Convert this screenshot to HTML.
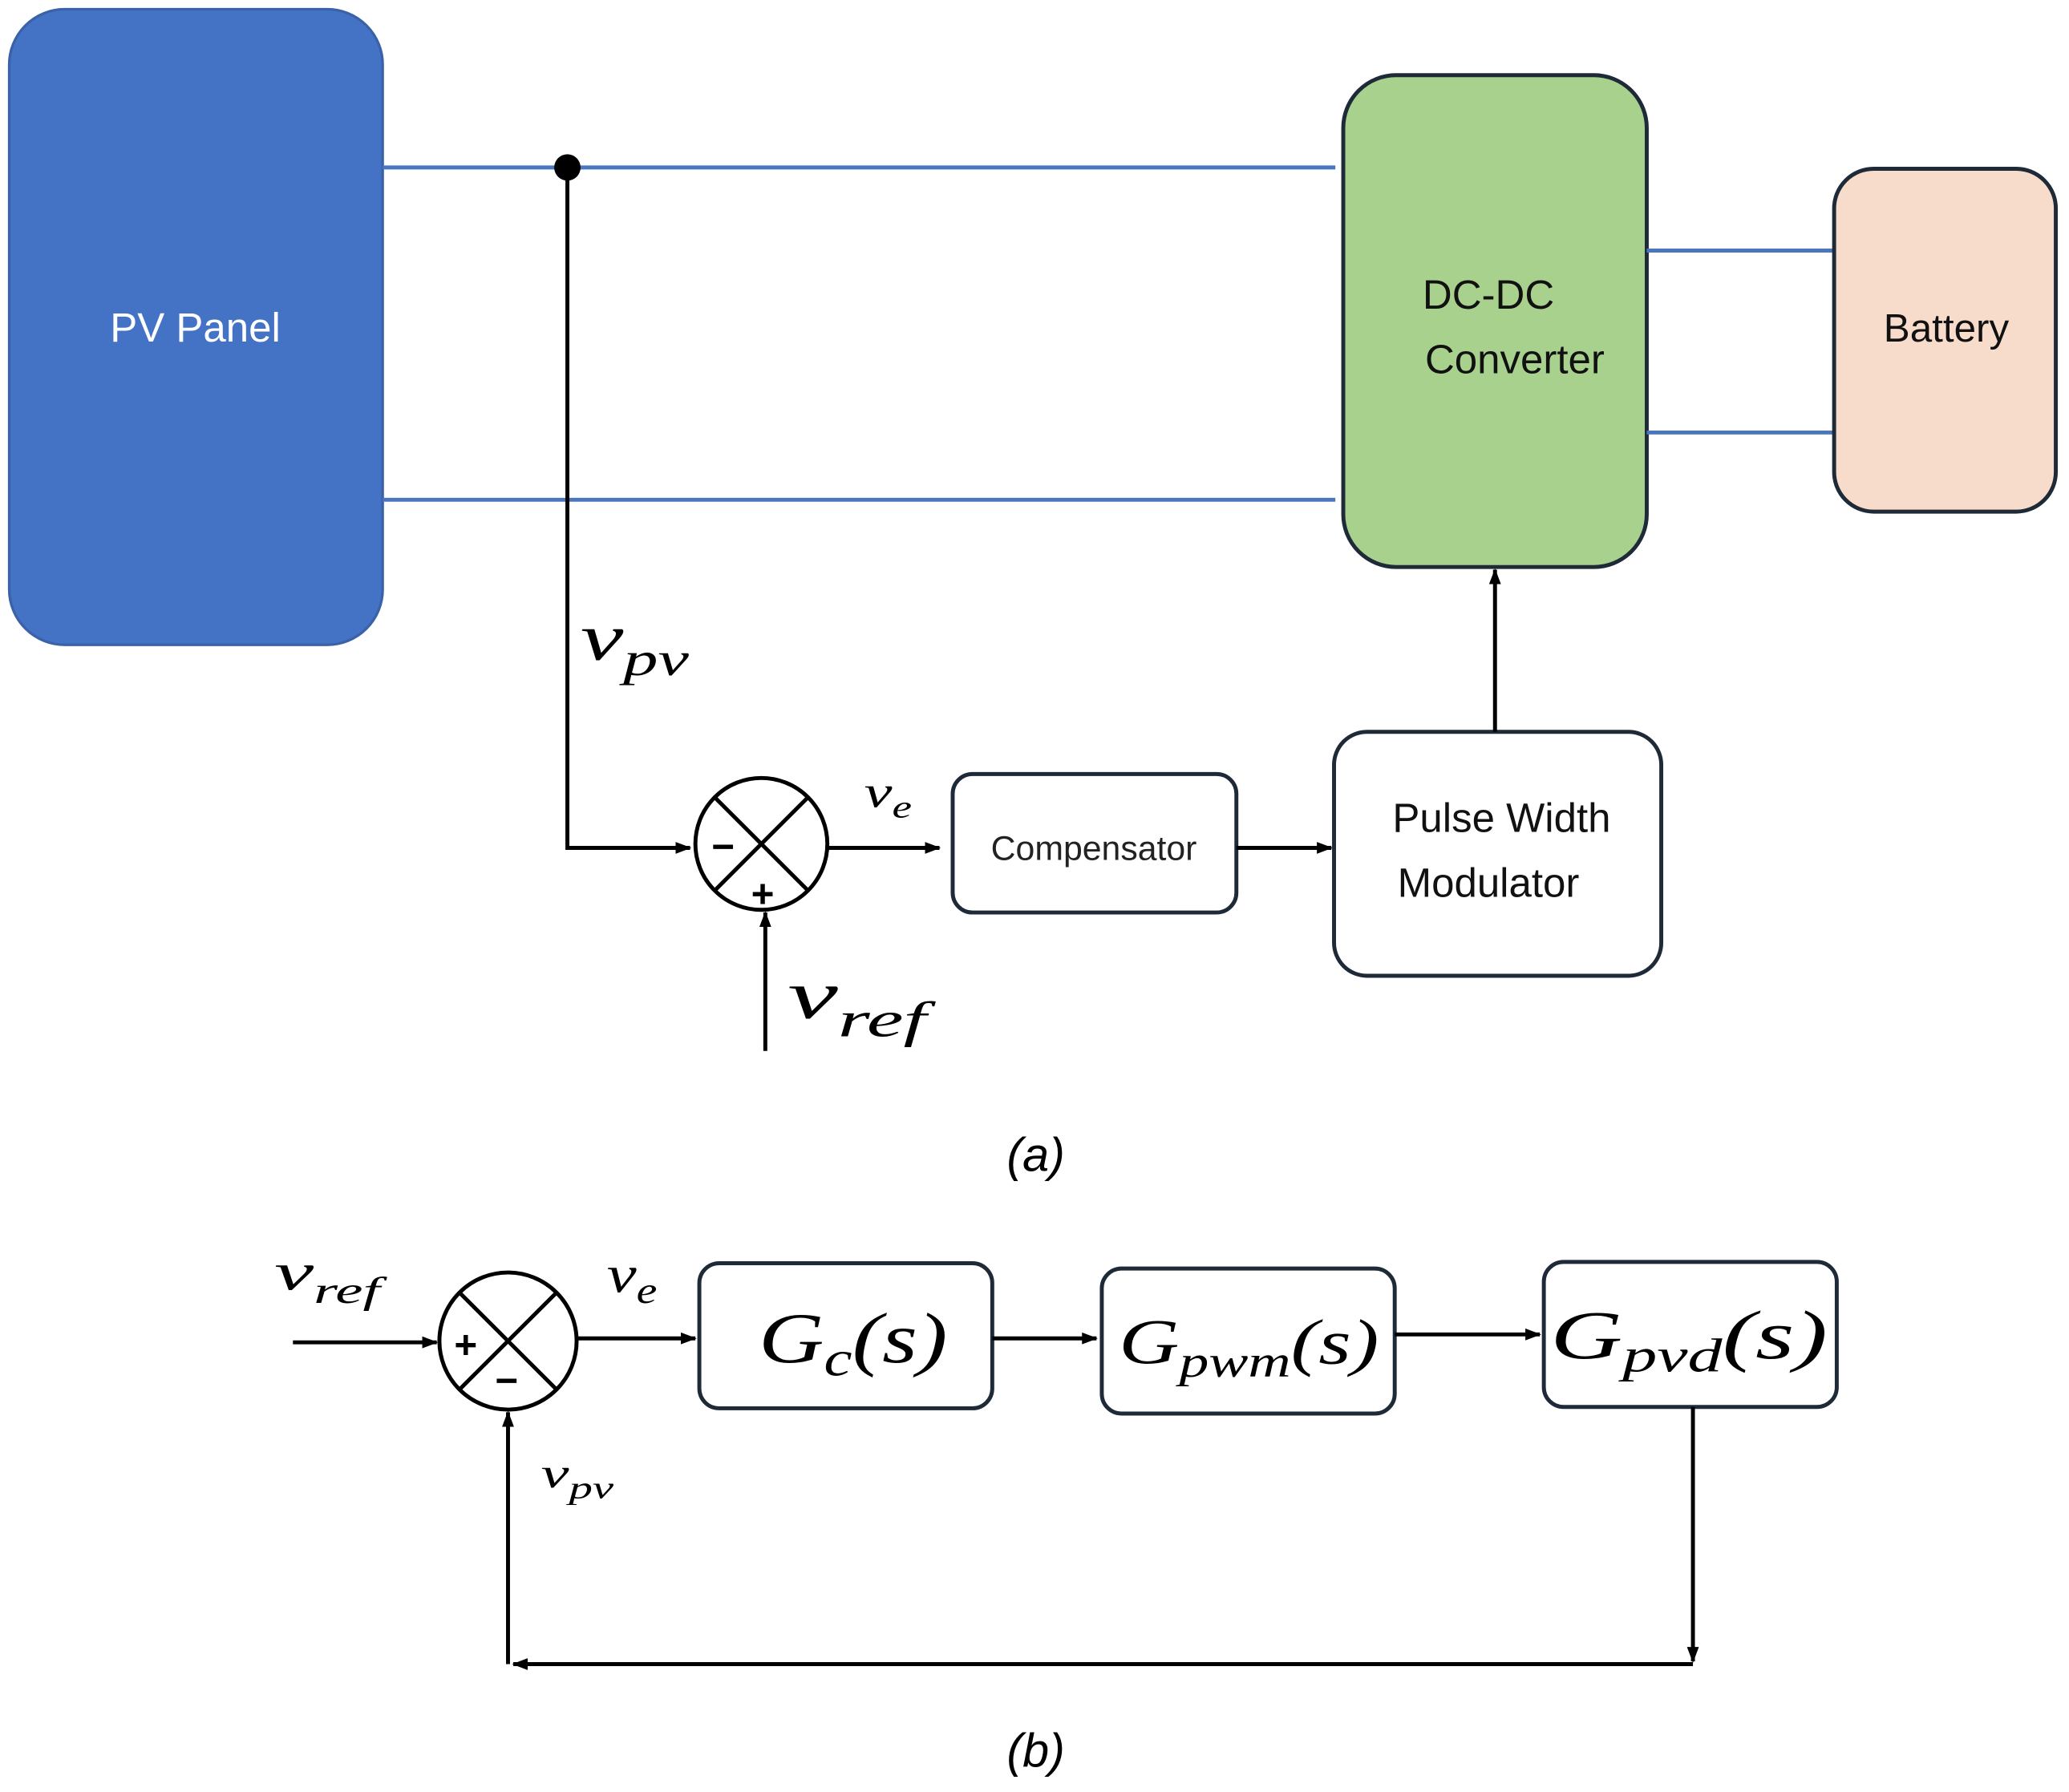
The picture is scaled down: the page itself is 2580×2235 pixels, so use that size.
<!DOCTYPE html>
<html><head><meta charset="utf-8"><style>
html,body{margin:0;padding:0;background:#fff;}
svg{display:block;}
</style></head><body>
<svg width="2580" height="2235" viewBox="0 0 1568 1359" preserveAspectRatio="none" xmlns="http://www.w3.org/2000/svg">
<defs>
<marker id="ar" markerWidth="12" markerHeight="12" refX="11" refY="6" orient="auto" markerUnits="userSpaceOnUse">
<path d="M0,1.5 L12,6 L0,10.5 Z" fill="#000"/></marker>
</defs>
<rect width="1568" height="1359" fill="#fff"/>
<!-- (a) -->
<rect x="7" y="7" width="283" height="482" rx="42" fill="#4472C4" stroke="#3a62a8" stroke-width="2"/>
<text x="148" y="259" font-family="Liberation Sans, sans-serif" font-size="31" fill="#fff" text-anchor="middle">PV Panel</text>
<line x1="290" y1="127" x2="1012" y2="127" stroke="#4a76c0" stroke-width="3"/>
<line x1="290" y1="379" x2="1012" y2="379" stroke="#4a76c0" stroke-width="3"/>
<rect x="1018" y="57" width="230" height="373" rx="40" fill="#A9D18E" stroke="#1e2a38" stroke-width="3"/>
<text x="1128" y="234" font-family="Liberation Sans, sans-serif" font-size="31" fill="#111" text-anchor="middle">DC-DC</text>
<text x="1148" y="283" font-family="Liberation Sans, sans-serif" font-size="31" fill="#111" text-anchor="middle">Converter</text>
<line x1="1248" y1="190" x2="1390" y2="190" stroke="#4a76c0" stroke-width="3"/>
<line x1="1248" y1="328" x2="1390" y2="328" stroke="#4a76c0" stroke-width="3"/>
<rect x="1390" y="128" width="168" height="260" rx="30" fill="#F8DCCB" stroke="#1e2a38" stroke-width="3"/>
<text x="1475" y="259" font-family="Liberation Sans, sans-serif" font-size="30" fill="#111" text-anchor="middle">Battery</text>
<circle cx="430" cy="127" r="10" fill="#000"/>
<polyline points="430,127 430,643 523,643" fill="none" stroke="#000" stroke-width="3" marker-end="url(#ar)"/>
<text x="440" y="500" font-family="Liberation Serif, serif" font-style="italic" font-size="50" textLength="82" lengthAdjust="spacingAndGlyphs">v<tspan font-size="36" dy="12">pv</tspan></text>
<circle cx="577" cy="640" r="50" fill="#fff" stroke="#000" stroke-width="3"/>
<line x1="542" y1="605" x2="612" y2="675" stroke="#000" stroke-width="3"/>
<line x1="612" y1="605" x2="542" y2="675" stroke="#000" stroke-width="3"/>
<text x="548" y="652" font-family="Liberation Sans, sans-serif" font-size="30" font-weight="bold" text-anchor="middle">−</text>
<text x="578" y="688" font-family="Liberation Sans, sans-serif" font-size="30" font-weight="bold" text-anchor="middle">+</text>
<line x1="580" y1="797" x2="580" y2="692" stroke="#000" stroke-width="3" marker-end="url(#ar)"/>
<text x="597" y="772" font-family="Liberation Serif, serif" font-style="italic" font-size="52" textLength="105" lengthAdjust="spacingAndGlyphs">v<tspan font-size="38" dy="14">ref</tspan></text>
<line x1="627" y1="643" x2="712" y2="643" stroke="#000" stroke-width="3" marker-end="url(#ar)"/>
<text x="655" y="612" font-family="Liberation Serif, serif" font-style="italic" font-size="34" textLength="36" lengthAdjust="spacingAndGlyphs">v<tspan font-size="24" dy="8">e</tspan></text>
<rect x="722" y="587" width="215" height="105" rx="15" fill="#fff" stroke="#1e2a38" stroke-width="3"/>
<text x="829" y="652" font-family="Liberation Sans, sans-serif" font-size="26" fill="#222" text-anchor="middle">Compensator</text>
<line x1="937" y1="643" x2="1009" y2="643" stroke="#000" stroke-width="3" marker-end="url(#ar)"/>
<rect x="1011" y="555" width="248" height="185" rx="25" fill="#fff" stroke="#1e2a38" stroke-width="3"/>
<text x="1138" y="631" font-family="Liberation Sans, sans-serif" font-size="31" fill="#111" text-anchor="middle">Pulse Width</text>
<text x="1128" y="680" font-family="Liberation Sans, sans-serif" font-size="31" fill="#111" text-anchor="middle">Modulator</text>
<line x1="1133" y1="555" x2="1133" y2="432" stroke="#000" stroke-width="3" marker-end="url(#ar)"/>
<text x="785" y="888" font-family="Liberation Sans, sans-serif" font-style="italic" font-size="36" text-anchor="middle">(a)</text>
<!-- (b) -->
<text x="208" y="978" font-family="Liberation Serif, serif" font-style="italic" font-size="40" textLength="80" lengthAdjust="spacingAndGlyphs">v<tspan font-size="28" dy="10">ref</tspan></text>
<line x1="222" y1="1018" x2="331" y2="1018" stroke="#000" stroke-width="3" marker-end="url(#ar)"/>
<circle cx="385" cy="1017" r="52" fill="#fff" stroke="#000" stroke-width="3"/>
<line x1="348" y1="980" x2="422" y2="1054" stroke="#000" stroke-width="3"/>
<line x1="422" y1="980" x2="348" y2="1054" stroke="#000" stroke-width="3"/>
<text x="353" y="1030" font-family="Liberation Sans, sans-serif" font-size="30" font-weight="bold" text-anchor="middle">+</text>
<text x="384" y="1057" font-family="Liberation Sans, sans-serif" font-size="30" font-weight="bold" text-anchor="middle">−</text>
<text x="460" y="980" font-family="Liberation Serif, serif" font-style="italic" font-size="40" textLength="38" lengthAdjust="spacingAndGlyphs">v<tspan font-size="28" dy="8">e</tspan></text>
<line x1="438" y1="1015" x2="527" y2="1015" stroke="#000" stroke-width="3" marker-end="url(#ar)"/>
<rect x="530" y="958" width="222" height="110" rx="15" fill="#fff" stroke="#1e2a38" stroke-width="3"/>
<text x="575" y="1033" font-family="Liberation Serif, serif" font-style="italic" font-size="54" textLength="143" lengthAdjust="spacingAndGlyphs">G<tspan font-size="38" dy="10">c</tspan><tspan dy="-10">(s)</tspan></text>
<line x1="752" y1="1015" x2="831" y2="1015" stroke="#000" stroke-width="3" marker-end="url(#ar)"/>
<rect x="835" y="962" width="222" height="110" rx="15" fill="#fff" stroke="#1e2a38" stroke-width="3"/>
<text x="848" y="1034" font-family="Liberation Serif, serif" font-style="italic" font-size="48" textLength="197" lengthAdjust="spacingAndGlyphs">G<tspan font-size="34" dy="10">pwm</tspan><tspan dy="-10">(s)</tspan></text>
<line x1="1057" y1="1012" x2="1167" y2="1012" stroke="#000" stroke-width="3" marker-end="url(#ar)"/>
<rect x="1170" y="957" width="222" height="110" rx="15" fill="#fff" stroke="#1e2a38" stroke-width="3"/>
<text x="1175" y="1030" font-family="Liberation Serif, serif" font-style="italic" font-size="52" textLength="210" lengthAdjust="spacingAndGlyphs">G<tspan font-size="36" dy="10">pvd</tspan><tspan dy="-10">(s)</tspan></text>
<line x1="1283" y1="1067" x2="1283" y2="1260" stroke="#000" stroke-width="3" marker-end="url(#ar)"/>
<line x1="1283" y1="1262" x2="389" y2="1262" stroke="#000" stroke-width="3" marker-end="url(#ar)"/>
<line x1="385" y1="1262" x2="385" y2="1071" stroke="#000" stroke-width="3" marker-end="url(#ar)"/>
<text x="410" y="1128" font-family="Liberation Serif, serif" font-style="italic" font-size="32" textLength="55" lengthAdjust="spacingAndGlyphs">v<tspan font-size="24" dy="8">pv</tspan></text>
<text x="785" y="1340" font-family="Liberation Sans, sans-serif" font-style="italic" font-size="36" text-anchor="middle">(b)</text>
</svg>
</body></html>
